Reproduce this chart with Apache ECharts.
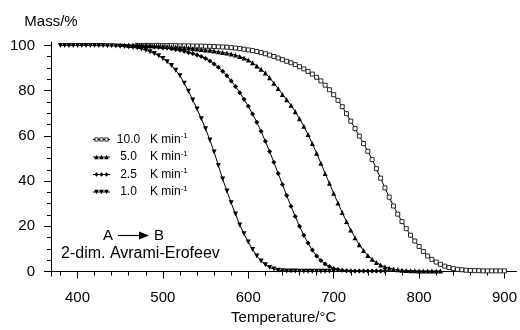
<!DOCTYPE html>
<html><head><meta charset="utf-8">
<script src="https://cdn.jsdelivr.net/npm/echarts@6/dist/echarts.min.js"></script>
<style>html,body{margin:0;padding:0;background:#fff}#c{width:520px;height:330px}</style>
</head><body><div id="c"></div>
<script>
// Series labels (heating rates, K min^-1)
const rateLabels = ['10.0', '5.0', '2.5', '1.0'];
// Temperature sampling: start (°C) and step for each series
const tStart10 = 470, tStart5 = 460, tStart25 = 450, tStart1 = 380;
const tStep = 5;
// Mass / %
const mass10 = [100,100,100,100,100,100,99.9,99.9,99.9,99.9,
  99.8,99.8,99.8,99.7,99.7,99.7,99.6,99.6,99.5,99.4,
  99.3,99.2,99.0,98.8,98.6,98.3,98.0,97.7,97.3,96.8,
  96.3,95.7,95.1,94.4,93.7,93.0,92.3,91.5,90.6,89.6,
  88.5,87.3,85.9,84.3,82.4,80.4,78.2,75.7,72.9,69.8,
  66.5,63.2,59.9,56.6,53.2,49.5,45.5,41.3,37.0,32.9,
  29.0,25.4,22.1,19.0,16.1,13.5,11.1,8.9,6.9,5.4,
  4.2,3.2,2.4,1.8,1.3,1.0,0.8,0.6,0.5,0.4,
  0.4,0.3,0.3,0.3,0.3,0.3,0.3];
const mass5 = [100,100,100,99.9,99.9,99.8,99.8,99.7,99.6,99.5,
  99.4,99.3,99.1,99.0,98.8,98.6,98.4,98.2,98.0,97.8,
  97.5,97.2,96.9,96.6,96.2,95.7,95.1,94.4,93.5,92.3,
  90.9,89.4,87.8,85.7,83.3,80.9,78.3,76.0,73.5,70.7,
  67.6,64.3,60.6,56.6,52.3,47.9,43.4,39.0,34.6,30.3,
  26.1,22.1,18.4,15.0,11.9,9.3,7.1,5.4,4.0,2.9,
  2.1,1.5,1.1,0.8,0.6,0.5,0.4,0.4,0.3,0.3,
  0.3,0.3,0.3,0.3];
const mass25 = [100,100,99.9,99.9,99.8,99.7,99.6,99.5,99.3,99.2,
  99.0,98.8,98.5,98.2,97.8,97.4,96.9,96.4,95.8,95.1,
  94.2,93.1,91.8,90.3,88.6,86.6,84.3,81.8,79.1,76.2,
  73.1,69.7,66.0,62.0,57.6,53.1,48.3,43.4,38.5,33.6,
  28.9,24.3,20.0,16.1,12.6,9.5,6.9,4.9,3.3,2.2,
  1.4,0.9,0.6,0.4,0.3,0.3,0.2,0.2,0.2,0.2,
  0.2,0.2,0.2];
const mass1 = [100,100,100,100,100,100,100,100,99.9,99.9,
  99.9,99.8,99.8,99.7,99.6,99.5,99.3,99.1,98.8,98.4,
  97.9,97.2,96.4,95.4,94.2,92.8,91.1,89.0,86.6,83.3,
  79.7,75.9,71.9,67.6,63.1,58.2,52.9,46.9,40.9,35.6,
  30.4,25.5,20.6,16.7,13.1,9.8,6.9,4.7,3.0,1.8,
  1.1,0.6,0.4,0.3,0.2,0.2,0.1,0.1,0.1,0.1,
  0.1,0.1,0.1,0.1,0.1];
// Tick labels
const xMajor = [400,500,600,700,800,900];
const xMinor = [380,420,440,460,480,520,540,560,580,620,640,660,680,720,740,760,780,820,840,860,880];
const yMajor = [0,20,40,60,80,100];
const yMinor = [5,10,15,25,30,35,45,50,55,65,70,75,85,90,95];

function pairs(start, vals){ return vals.map((v,i)=>[start+i*tStep, v]); }

// legend icons: short line with three markers
const LINE = 'M0,2.1 H17 V2.9 H0 Z ';
const ICON_SQ = 'path://M0,2.1 H1.5 V2.9 H0 Z M5.5,2.1 H6.5 V2.9 H5.5 Z M10.5,2.1 H11.5 V2.9 H10.5 Z M15.5,2.1 H17 V2.9 H15.5 Z ' +
  [1.5,6.5,11.5].map(x=>`M${x},0.4 H${x+4} V4.6 H${x} Z M${x+0.9},1.3 V3.7 H${x+3.1} V1.3 Z`).join(' ');
const ICON_UP = 'path://' + LINE + [3.5,8.5,13.5].map(c=>`M${c-2.3},4.8 L${c},0.2 L${c+2.3},4.8 Z`).join(' ');
const ICON_DI = 'path://' + LINE + [3.5,8.5,13.5].map(c=>`M${c},0.3 L${c+2},2.5 L${c},4.7 L${c-2},2.5 Z`).join(' ');
const ICON_DN = 'path://' + LINE + [3.5,8.5,13.5].map(c=>`M${c-2.3},0.2 L${c+2.3},0.2 L${c},4.8 Z`).join(' ');
const icons = [ICON_SQ, ICON_UP, ICON_DI, ICON_DN];

const FONT = '"Liberation Sans", Arial, sans-serif';
const chart = echarts.init(document.getElementById('c'), null, {renderer:'canvas'});
const axLine = {show:true, lineStyle:{color:'#000', width:1}};
const baseSeries = {type:'line', xAxisIndex:0, yAxisIndex:0, showAllSymbol:true,
  lineStyle:{color:'#000', width:1}, emphasis:{disabled:true}, animation:false};

chart.setOption({
  animation:false,
  textStyle:{fontFamily:FONT},
  grid:{left:51, right:2, top:42, bottom:52},
  legend:{
    orient:'vertical', left:88, top:127, itemWidth:17, itemHeight:5, itemGap:4,
    data: rateLabels.map((n,i)=>({name:n, icon:icons[i], itemStyle:{color:'#000', borderWidth:0}})),
    textStyle:{color:'#000', fontSize:12, fontFamily:FONT,
      rich:{num:{width:27, align:'right', fontSize:12, color:'#000'},
            gap:{width:8},
            sup:{fontSize:8, color:'#000', verticalAlign:'top', padding:[0,0,7,0]}}},
    formatter: n => '{num|'+n+'}{gap|}K min{sup|-1}'
  },
  xAxis:[
    {type:'value', min:369, max:914, position:'bottom',
     name:'Temperature/°C', nameLocation:'middle', nameGap:29,
     nameTextStyle:{color:'#000', fontSize:15, fontFamily:FONT},
     axisLine:axLine, splitLine:{show:false},
     axisTick:{show:true, length:7, customValues:xMajor, lineStyle:{color:'#000'}},
     axisLabel:{customValues:xMajor, margin:14, fontSize:15, color:'#000', fontFamily:FONT}},
    {type:'value', min:369, max:914, position:'bottom',
     axisLine:{show:false}, splitLine:{show:false}, axisLabel:{show:false},
     axisTick:{show:true, length:4, customValues:xMinor, lineStyle:{color:'#000'}}}
  ],
  yAxis:[
    {type:'value', min:-2, max:101.5, position:'left',
     name:'Mass/%', nameLocation:'end', nameGap:13,
     nameTextStyle:{color:'#000', fontSize:15, fontFamily:FONT},
     axisLine:axLine, splitLine:{show:false},
     axisTick:{show:true, length:7, customValues:yMajor, lineStyle:{color:'#000'}},
     axisLabel:{customValues:yMajor, margin:16, fontSize:15, color:'#000', fontFamily:FONT}},
    {type:'value', min:-2, max:101.5, position:'left',
     axisLine:{show:false}, splitLine:{show:false}, axisLabel:{show:false},
     axisTick:{show:true, length:4, customValues:yMinor, lineStyle:{color:'#000'}}}
  ],
  series:[
    Object.assign({}, baseSeries, {name:rateLabels[0], data:pairs(tStart10, mass10),
      symbol:'rect', symbolSize:4, itemStyle:{color:'#fff', borderColor:'#111', borderWidth:0.9}}),
    Object.assign({}, baseSeries, {name:rateLabels[1], data:pairs(tStart5, mass5),
      symbol:'triangle', symbolSize:5, itemStyle:{color:'#000'}}),
    Object.assign({}, baseSeries, {name:rateLabels[2], data:pairs(tStart25, mass25),
      symbol:'diamond', symbolSize:5, itemStyle:{color:'#000'}}),
    Object.assign({}, baseSeries, {name:rateLabels[3], data:pairs(tStart1, mass1),
      symbol:'triangle', symbolRotate:180, symbolSize:5, itemStyle:{color:'#000'}})
  ],
  graphic:[
    {type:'text', left:103, top:228, style:{text:'A', font:'15px '+FONT, fill:'#000'}},
    {type:'line', shape:{x1:118, y1:235.5, x2:140, y2:235.5}, style:{stroke:'#000', lineWidth:1.2}},
    {type:'polygon', shape:{points:[[139,231.5],[149,235.5],[139,239.5]]}, style:{fill:'#000'}},
    {type:'text', left:154, top:228, style:{text:'B', font:'15px '+FONT, fill:'#000'}},
    {type:'text', left:61, top:246, style:{text:'2-dim. Avrami-Erofeev', font:'16px '+FONT, fill:'#000'}}
  ]
});
</script></body></html>
